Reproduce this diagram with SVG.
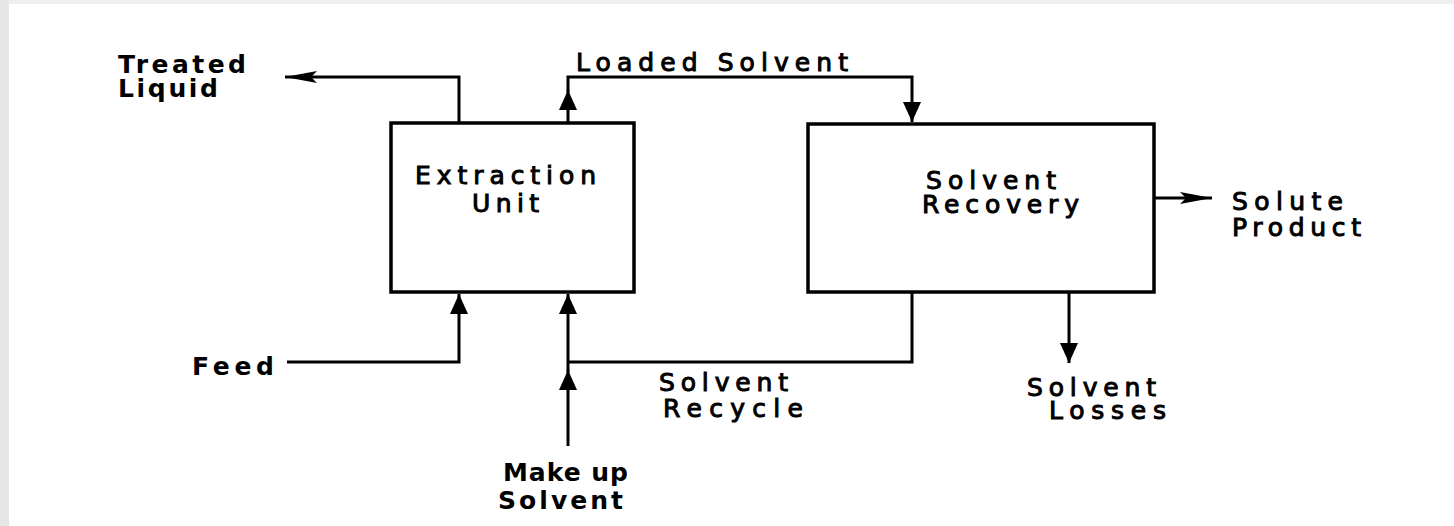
<svg xmlns="http://www.w3.org/2000/svg" width="1454" height="526" viewBox="0 0 1454 526">
<style>
  .t { font-family: "DejaVu Sans", "Liberation Sans", sans-serif; font-size: 25px; fill: #000; }
  .b { font-weight: bold; }
  .m { font-weight: normal; stroke: #000; stroke-width: 1; }
  .box { fill: #fff; stroke: #000; stroke-width: 3.5; }
  .ln { fill: none; stroke: #000; stroke-width: 3; }
</style>
<defs>
  <marker id="ah" viewBox="0 0 20 18" markerWidth="20" markerHeight="18" refX="20" refY="9" orient="auto" markerUnits="userSpaceOnUse">
    <path d="M0,0 L20,9 L0,18 z" fill="#000"/>
  </marker>
  <marker id="ahs" viewBox="0 0 32 12" markerWidth="32" markerHeight="12" refX="32" refY="6" orient="auto" markerUnits="userSpaceOnUse">
    <path d="M0,0 L32,6 L0,12 L6,6 z" fill="#000"/>
  </marker>
</defs>
<rect x="0" y="0" width="1454" height="526" fill="#fff"/>
<rect x="0" y="0" width="1454" height="4" fill="#efefef"/>
<rect x="0" y="0" width="9" height="526" fill="#e6e6e6"/>

<g id="connectors">
  <path class="ln" d="M459,123 V77 H285" marker-end="url(#ahs)"/>
  <path class="ln" d="M568,123 V90" marker-end="url(#ah)"/>
  <path class="ln" d="M568,91 V77 H912 V122" marker-end="url(#ah)"/>
  <path class="ln" d="M1154,198 H1212" marker-end="url(#ahs)"/>
  <path class="ln" d="M287,362 H459 V294" marker-end="url(#ah)"/>
  <path class="ln" d="M568,446 V370" marker-end="url(#ah)"/>
  <path class="ln" d="M568,371 V294" marker-end="url(#ah)"/>
  <path class="ln" d="M912,292 V362 H568"/>
  <path class="ln" d="M1069,292 V363" marker-end="url(#ah)"/>
</g>

<g id="extraction-unit">
  <rect class="box" x="391" y="123" width="243" height="169"/>
  <text class="t m" x="415" y="184" textLength="181" lengthAdjust="spacing">Extraction</text>
  <text class="t m" x="472" y="212" textLength="67" lengthAdjust="spacing">Unit</text>
</g>

<g id="solvent-recovery">
  <rect class="box" x="808" y="124" width="346" height="168"/>
  <text class="t m" x="926" y="189" textLength="130" lengthAdjust="spacing">Solvent</text>
  <text class="t m" x="922" y="213" textLength="157" lengthAdjust="spacing">Recovery</text>
</g>

<g id="treated-liquid">
  <text class="t b" x="118" y="73" textLength="128" lengthAdjust="spacing">Treated</text>
  <text class="t b" x="118" y="97" textLength="100" lengthAdjust="spacing">Liquid</text>
</g>

<g id="loaded-solvent">
  <text class="t m" x="576" y="71" textLength="272" lengthAdjust="spacing">Loaded  Solvent</text>
</g>

<g id="solute-product">
  <text class="t m" x="1232" y="210" textLength="111" lengthAdjust="spacing">Solute</text>
  <text class="t m" x="1232" y="236" textLength="129" lengthAdjust="spacing">Product</text>
</g>

<g id="feed">
  <text class="t b" x="192" y="375" textLength="82" lengthAdjust="spacing">Feed</text>
</g>

<g id="solvent-recycle">
  <text class="t m" x="659" y="391" textLength="129" lengthAdjust="spacing">Solvent</text>
  <text class="t m" x="663" y="417" textLength="140" lengthAdjust="spacing">Recycle</text>
</g>

<g id="make-up-solvent">
  <text class="t b" x="503" y="481" textLength="125" lengthAdjust="spacing">Make up</text>
  <text class="t b" x="498" y="509" textLength="125" lengthAdjust="spacing">Solvent</text>
</g>

<g id="solvent-losses">
  <text class="t m" x="1027" y="396" textLength="129" lengthAdjust="spacing">Solvent</text>
  <text class="t m" x="1049" y="419" textLength="117" lengthAdjust="spacing">Losses</text>
</g>
</svg>
